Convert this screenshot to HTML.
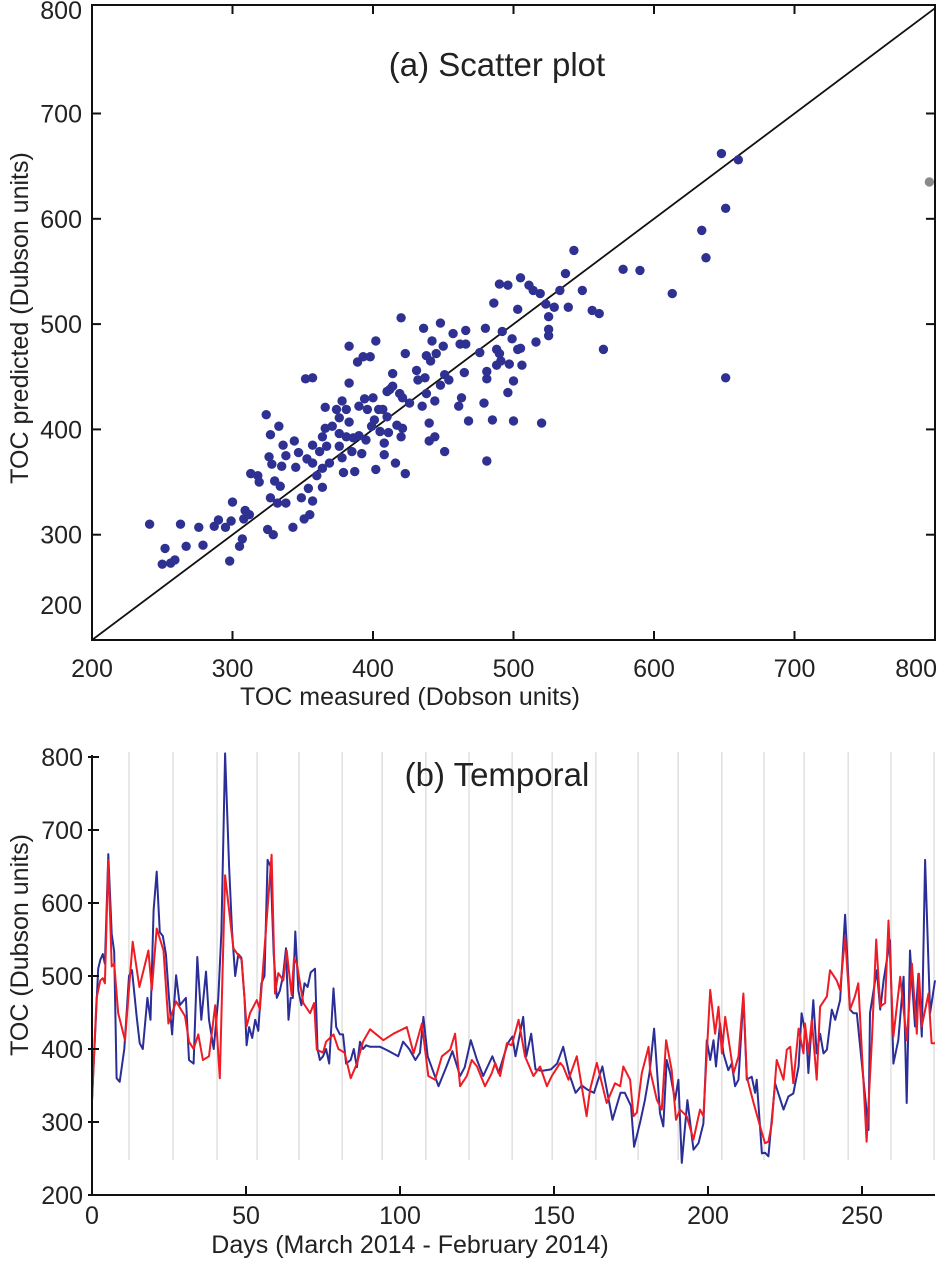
<!DOCTYPE html>
<html><head><meta charset="utf-8"><style>
body{margin:0;background:#fff;}
svg{display:block;font-family:"Liberation Sans",Arial,sans-serif;}
</style></head><body>
<svg id="chart" width="940" height="1262" viewBox="0 0 940 1262" xmlns="http://www.w3.org/2000/svg"></svg>
<script>
// ---- Scatter data (Dobson units) ----
const scatterMeasured = [241,252,250,256,259,263,267,276,279,287,290,295,298,300,299,305,307,309,308,312,313,318,319,324,325,329,327,326,327,333,328,330,332,334,335,336,338,338,343,344,345,347,349,351,352,357,353,355,357,354,357,357,360,362,364,364,366,364,366,367,369,371,374,376,376,378,376,378,379,381,381,383,383,383,385,386,387,389,390,390,392,393,394,395,396,398,399,400,401,402,402,404,405,407,408,408,410,410,411,412,414,414,416,417,419,420,420,421,421,423,423,426,431,432,435,436,437,438,438,440,440,441,442,444,444,445,448,448,450,451,451,454,457,461,462,463,465,466,466,468,476,479,480,481,481,481,485,486,488,488,490,491,492,496,497,499,500,500,503,503,505,506,516,520,523,525,525,525,529,539,556,561,564,648,660,651,634,637,543,537,505,490,496,511,514,519,533,549,578,590,613,651];
const scatterPredicted = [310,287,272,273,276,310,289,307,290,308,314,307,275,331,313,289,296,323,315,319,358,356,350,414,305,300,335,374,395,403,367,351,330,346,365,385,375,330,307,389,364,378,335,315,448,449,372,319,332,344,368,385,356,379,345,363,401,393,421,384,368,403,419,411,384,427,396,373,359,393,419,444,479,407,379,392,360,464,422,394,377,469,429,390,419,469,403,430,409,484,362,419,398,419,387,376,436,412,397,438,453,441,368,404,434,506,393,401,430,472,358,425,456,447,422,496,449,470,434,406,389,465,484,427,393,472,501,442,479,452,379,447,491,422,481,430,454,481,494,408,473,425,496,448,455,370,409,520,476,461,472,465,493,435,462,486,446,408,514,476,477,461,483,406,519,507,495,489,516,516,513,510,476,662,656,610,589,563,570,548,544,538,537,537,532,529,532,532,552,551,529,449];
const greyMeasured = [796];
const greyPredicted = [635];
const scatterXTicks = [200,300,400,500,600,700,800];
const scatterYTicks = [200,300,400,500,600,700,800];

// ---- Temporal data ----
const measDays = [0,1,2,2.7,3.5,4.2,5.3,6.4,7.2,8,9,10.5,12,13,14.5,15.5,16.5,18,19,20,21,22,23,24,25,26,27.3,28.5,29.5,30.5,31.5,33,34.2,35.5,37,38,39.5,41,42,43.2,44.5,45.5,46.5,47.5,48.5,49.5,50.2,51,52,53,54,55,56,57,58,59,60,61,62,63,63.8,64.5,65.2,66,67,68,69,70,71,72.4,73.2,74,75,76,77,78.4,79.3,80.5,81.5,82.5,84,85,86,87,88,89,90.3,93.5,96,99.4,101,103,105,106.5,107.6,109,112.5,115,117,119.5,121,123,125,127,130,132,135,136.5,137.5,140,141,142.6,144,146,149,151,153,155,157,159,161,163,165.7,169,171.6,173,175,176,178,179.5,181,182.5,184.4,185.5,186.6,187.7,189.3,190.4,191.5,193.3,195.3,196.9,198.5,199.6,200.7,201.8,202.6,203.9,205,206.6,207.7,208.8,209.9,211.5,212.6,214.2,215.3,215.8,217.5,218.5,219.6,221.8,224.5,226.1,227.7,229.4,230.4,232,232.6,234.2,235.3,236.4,237.5,238.6,240.2,241.3,242.9,244.5,246.1,247.2,248.3,252.1,252.6,254.8,255.9,257,259.1,260.2,261.8,263.5,264.5,265.6,267.2,268.3,269.4,270.5,272.1,273.7];
const measVals = [330,420,510,522,530,517,667,558,533,360,355,400,500,508,444,408,400,470,440,590,643,560,555,530,470,420,501,460,465,470,385,380,526,440,506,440,400,470,560,805,650,560,500,530,525,470,405,430,415,440,425,490,500,659,650,530,470,480,500,538,440,470,470,561,480,460,490,485,505,510,400,385,390,400,380,483,430,420,420,380,385,400,375,410,400,405,403,403,398,390,410,400,385,395,444,390,349,375,397,363,375,412,385,363,390,367,408,417,390,444,390,421,372,370,372,380,403,365,340,350,344,340,376,303,340,340,322,266,300,330,367,428,312,294,385,367,330,358,244,330,262,271,298,412,385,412,376,435,394,371,380,349,358,472,358,362,340,358,257,258,253,353,317,335,339,376,449,412,367,467,394,421,394,399,454,440,467,584,454,449,449,289,449,508,454,494,549,380,412,499,326,535,431,503,417,659,449,494];
const predDays = [0,1.5,2.7,3.5,4.2,5.3,6.4,7.2,8.5,10.7,13.2,15.4,18.3,19.4,21,23.2,24.8,27.3,30.2,31.5,33,34.5,36,38,40,41.5,43.2,45.9,48.6,50.2,51.3,53.5,54.5,58.3,59.4,60.5,62.1,63.2,64.8,65.6,66.5,68.6,70.8,72.1,73,75,76,78.4,80,82,84,86,88,90.3,94.6,97.9,102.2,104.4,107.1,109.2,111.4,113.6,116.3,117.9,119.5,121.7,123.3,125,127.6,129.8,130.9,132.5,134.7,136.3,138.5,140.6,143.3,145.5,147.7,149.3,152,153,154.7,157.4,160.6,161.7,163.9,167.1,169.8,171.5,172.5,174.7,175.8,176.9,178.5,180.7,181.2,183.4,185,186.4,188.2,189.6,190.9,193.1,195.3,197.4,198.5,200.7,202.3,203.4,204.5,205.6,208.3,209.9,211.5,212.6,214.8,216.9,218.5,219.6,220.7,222.3,224.5,225.6,226.7,227.7,229.4,231,231.5,232.6,233.7,235.3,236.4,238.6,239.6,241.8,242.9,244.5,246.1,247.7,248.8,251.5,253.2,254.6,255.9,257.5,258.6,260.2,262.4,264.5,266.2,267.8,268.5,269.4,271.6,272.6,273.7];
const predVals = [330,470,494,497,490,659,513,517,449,412,547,485,535,481,565,535,435,465,445,410,400,420,385,390,460,360,638,538,522,431,449,467,454,666,476,504,494,535,474,524,517,463,449,463,399,395,410,420,400,395,360,380,410,427,412,421,430,394,435,363,358,390,399,421,349,363,385,376,349,367,381,363,408,405,440,390,363,376,349,363,381,376,358,390,308,344,381,326,353,349,376,358,308,313,367,403,371,330,317,412,371,303,317,308,276,317,308,481,421,458,394,444,367,390,476,362,326,294,271,273,298,385,358,399,403,353,428,394,435,394,440,358,458,472,508,494,481,553,454,472,490,273,412,550,458,463,576,417,499,412,517,421,503,431,476,408,408];
const gridDays = [12,26.3,40.6,53.6,67.2,81.2,94.2,108.4,122.4,136.4,149.4,163.6,177.3,190.3,204.5,218.2,231.2,245.5,259.4,273.4];
const tempXTicks = [0,50,100,150,200,250];
const tempYTicks = [200,300,400,500,600,700,800];

const NS = "http://www.w3.org/2000/svg";
const svg = document.getElementById('chart');
function mk(tag, attrs, parent){
  const e = document.createElementNS(NS, tag);
  for (const k in attrs) e.setAttribute(k, attrs[k]);
  (parent||svg).appendChild(e);
  return e;
}
// ---- Scatter axes ----
const sx = v => 92 + (v-200)*1.405;
const sy = v => 640 - (v-200)*1.053;
const gA = mk('g', {});


const dl = mk('line', {x1:sx(200), y1:sy(200), x2:sx(800), y2:sy(800), stroke:'#111', 'stroke-width':1.8}, gA);


const ptsG = mk('g', {}, gA);


for (let i=0;i<scatterMeasured.length;i++){
  const c = mk('circle', {cx:sx(scatterMeasured[i]), cy:sy(scatterPredicted[i]), r:4.7, fill:'#2e3192'}, ptsG);
  
  
}
for (let i=0;i<greyMeasured.length;i++){
  const c = mk('circle', {cx:sx(greyMeasured[i]), cy:sy(greyPredicted[i]), r:4.7, fill:'#8a8a8a'}, ptsG);
  
  
}
const box = mk('rect', {x:92, y:5, width:843, height:635, fill:'none', stroke:'#111', 'stroke-width':2}, gA);


for (const t of scatterXTicks){
  const x = sx(t);
  if (t>200 && t<800){
    mk('line', {x1:x, y1:640, x2:x, y2:631, stroke:'#111', 'stroke-width':2}, gA);
    mk('line', {x1:x, y1:5, x2:x, y2:14, stroke:'#111', 'stroke-width':2}, gA);
  }
  const last = t===800;
  const tx = mk('text', {x:last?937:x, y:677, 'font-size':25, 'text-anchor':last?'end':'middle', fill:'#222'}, gA);
  tx.textContent = t;
  
  
}
for (const t of scatterYTicks){
  const y = sy(t);
  if (t>200 && t<800){
    mk('line', {x1:92, y1:y, x2:101, y2:y, stroke:'#111', 'stroke-width':2}, gA);
    mk('line', {x1:935, y1:y, x2:926, y2:y, stroke:'#111', 'stroke-width':2}, gA);
  }
  const ly = t===200 ? 614 : (t===800 ? 19 : y+9);
  const tx = mk('text', {x:82, y:ly, 'font-size':25, 'text-anchor':'end', fill:'#222'}, gA);
  tx.textContent = t;
  
  
}
let t1 = mk('text', {x:497, y:76, 'font-size':33, 'text-anchor':'middle', fill:'#222'}, gA);
t1.textContent = '(a) Scatter plot';


t1 = mk('text', {x:410, y:705, 'font-size':25, 'text-anchor':'middle', fill:'#222'}, gA);
t1.textContent = 'TOC measured (Dobson units)';


t1 = mk('text', {x:0, y:0, 'font-size':25, 'text-anchor':'middle', fill:'#222', transform:'translate(28,318) rotate(-90)'}, gA);
t1.textContent = 'TOC predicted (Dubson units)';



// ---- Temporal axes ----
const tx_ = d => 92 + d*3.08;
const ty_ = v => 1195 - (v-200)*0.73;
const gB = mk('g', {});


for (const d of gridDays){
  const gl = mk('line', {x1:tx_(d), y1:752, x2:tx_(d), y2:1160, stroke:'#d8d8d8', 'stroke-width':1.2}, gB);
  
  
}
function series(days, vals, color, name){
  let d = '';
  for (let i=0;i<days.length;i++) d += (i?'L':'M') + tx_(days[i]).toFixed(1) + ',' + ty_(vals[i]).toFixed(1);
  const p = mk('path', {d:d, fill:'none', stroke:color, 'stroke-width':2.0, 'stroke-linejoin':'round'}, gB);
  
  
}
series(measDays, measVals, '#2b2e96', 'measured-series');
series(predDays, predVals, '#ee1c25', 'predicted-series');
const ax1 = mk('line', {x1:92, y1:755, x2:92, y2:1196, stroke:'#111', 'stroke-width':2}, gB);


const ax2 = mk('line', {x1:91, y1:1195, x2:935, y2:1195, stroke:'#111', 'stroke-width':2}, gB);


for (const t of tempXTicks){
  const x = tx_(t);
  mk('line', {x1:x, y1:1195, x2:x, y2:1186, stroke:'#111', 'stroke-width':2}, gB);
  const tt = mk('text', {x:x, y:1224, 'font-size':25, 'text-anchor':'middle', fill:'#222'}, gB);
  tt.textContent = t;
  
  
}
for (const t of tempYTicks){
  const y = ty_(t);
  mk('line', {x1:88, y1:y, x2:99, y2:y, stroke:'#111', 'stroke-width':2}, gB);
  const tt = mk('text', {x:83, y:y+9, 'font-size':25, 'text-anchor':'end', fill:'#222'}, gB);
  tt.textContent = t;
  
  
}
let t2 = mk('text', {x:497, y:786, 'font-size':33, 'text-anchor':'middle', fill:'#222'}, gB);
t2.textContent = '(b) Temporal';


t2 = mk('text', {x:410, y:1253, 'font-size':25, 'text-anchor':'middle', fill:'#222'}, gB);
t2.textContent = 'Days (March 2014 - February 2014)';


t2 = mk('text', {x:0, y:0, 'font-size':25, 'text-anchor':'middle', fill:'#222', transform:'translate(28,945) rotate(-90)'}, gB);
t2.textContent = 'TOC (Dubson units)';


</script>
</body></html>
